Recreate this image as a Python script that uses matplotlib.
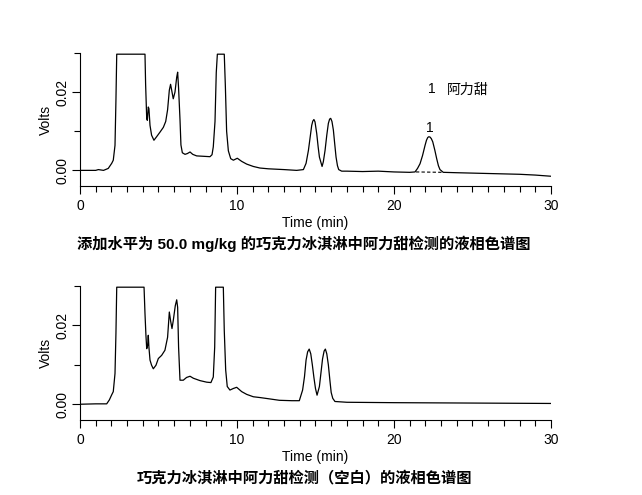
"""Two HPLC chromatograms: spiked chocolate ice cream vs blank."""

import matplotlib

matplotlib.use("Agg")
import matplotlib.pyplot as plt  # noqa: E402
from matplotlib.ticker import MultipleLocator  # noqa: E402

plt.rcParams["font.family"] = ["Liberation Sans", "Noto Sans CJK SC", "DejaVu Sans"]

# spiked sample (50.0 mg/kg); 0.0297 = detector saturation
spiked_t = [
    0.0, 1.0, 1.17, 1.5, 1.80, 2.02, 2.12, 2.23, 2.29, 2.34, 4.14, 4.18, 4.25,
    4.29, 4.35, 4.39, 4.46, 4.56, 4.71, 4.88, 5.10, 5.31, 5.46, 5.58, 5.69,
    5.77, 5.84, 5.94, 6.05, 6.16, 6.22, 6.28, 6.37, 6.43, 6.52, 6.69, 6.84,
    7.01, 7.18, 7.43, 7.86, 8.28, 8.41, 8.49, 8.60, 8.68, 8.75, 9.19, 9.26,
    9.34, 9.45, 9.60, 9.77, 10.02, 10.30, 10.62, 11.04, 11.46, 12.0, 13.0,
    13.8, 14.23, 14.40, 14.55, 14.76, 14.83, 14.90, 14.97, 15.08, 15.17,
    15.25, 15.42, 15.50, 15.61, 15.72, 15.82, 15.90, 15.97, 16.05, 16.14,
    16.22, 16.31, 16.40, 16.48, 16.67, 17.0, 18.0, 19.0, 20.0, 21.0, 21.34,
    21.50, 21.66, 21.82, 21.98, 22.07, 22.15, 22.22, 22.30, 22.38, 22.47,
    22.60, 22.72, 22.83, 22.93, 23.14, 24.0, 26.0, 28.0, 29.0, 30.0,
]
spiked_v = [
    0.0, 0.0, 0.0002, 0.0, 0.0005, 0.0018, 0.0026, 0.0064, 0.018, 0.0297,
    0.0297, 0.022, 0.0132, 0.0128, 0.0162, 0.0158, 0.0115, 0.0090, 0.0077,
    0.0086, 0.0098, 0.0110, 0.0125, 0.0155, 0.0205, 0.0220, 0.0205, 0.0183,
    0.0200, 0.0238, 0.0251, 0.0210, 0.0130, 0.0065, 0.0045, 0.0041, 0.0043,
    0.0047, 0.0041, 0.0037, 0.0036, 0.0035, 0.0040, 0.0060, 0.0125, 0.0250,
    0.0297, 0.0297, 0.0215, 0.0100, 0.0050, 0.0030, 0.0026, 0.0031, 0.0023,
    0.0016, 0.0010, 0.0006, 0.0004, 0.0002, 0.0, 0.0002, 0.0018, 0.0051,
    0.0115, 0.0126, 0.0130, 0.0124, 0.0094, 0.0060, 0.0034, 0.0010, 0.0022,
    0.0051, 0.0090, 0.0120, 0.0131, 0.0133, 0.0125, 0.0103, 0.0070, 0.0034,
    0.0012, 0.0002, -0.0002, -0.0002, -0.0003, -0.0002, -0.0004, -0.0005,
    -0.0004, 0.0005, 0.0017, 0.0038, 0.0064, 0.0077, 0.0084, 0.0086, 0.0085,
    0.0081, 0.0073, 0.0052, 0.0030, 0.0012, 0.0002, -0.0005, -0.0006,
    -0.0008, -0.0010, -0.0012, -0.0015,
]

# blank sample
blank_t = [
    0.0, 1.0, 1.70, 1.87, 2.02, 2.12, 2.23, 2.29, 2.34, 4.08, 4.14, 4.20,
    4.25, 4.31, 4.35, 4.39, 4.46, 4.56, 4.67, 4.84, 4.99, 5.20, 5.41, 5.58,
    5.69, 5.77, 5.86, 5.94, 6.07, 6.16, 6.22, 6.28, 6.37, 6.58, 6.79, 7.01,
    7.22, 7.64, 8.07, 8.34, 8.49, 8.58, 8.64, 9.13, 9.19, 9.28, 9.38, 9.55,
    9.77, 9.98, 10.30, 10.62, 11.04, 11.46, 12.0, 12.7, 13.5, 13.97, 14.18,
    14.30, 14.40, 14.50, 14.60, 14.70, 14.80, 14.90, 15.00, 15.10, 15.25,
    15.35, 15.45, 15.55, 15.63, 15.72, 15.82, 15.92, 16.00, 16.10, 16.24,
    17.0, 20.0, 25.0, 30.0,
]
blank_v = [
    0.0, 0.0001, 0.0001, 0.0011, 0.0024, 0.0032, 0.0078, 0.018, 0.0297,
    0.0297, 0.0230, 0.0175, 0.0141, 0.0150, 0.0175, 0.0145, 0.0112, 0.0099,
    0.0090, 0.0099, 0.0116, 0.0124, 0.0137, 0.0170, 0.0234, 0.0212, 0.0192,
    0.0212, 0.0250, 0.0265, 0.0246, 0.0145, 0.0061, 0.0061, 0.0068, 0.0071,
    0.0066, 0.0060, 0.0056, 0.0055, 0.0069, 0.0145, 0.0297, 0.0297, 0.0187,
    0.0087, 0.0045, 0.0036, 0.0040, 0.0043, 0.0032, 0.0025, 0.0019, 0.0017,
    0.0014, 0.0010, 0.0009, 0.0009, 0.0036, 0.0070, 0.0112, 0.0133, 0.0140,
    0.0128, 0.0100, 0.0068, 0.0040, 0.0023, 0.0045, 0.0080, 0.0115, 0.0135,
    0.0140, 0.0128, 0.0100, 0.0060, 0.0030, 0.0015, 0.0007, 0.0005, 0.0004,
    0.0003, 0.0002,
]

# integration baseline under the aspartame peak
peak_base_t = [21.4, 23.1]
peak_base_v = [-0.0004, -0.0005]
peak_label = "1"
peak_label_pos = (22.3, 0.0108)
legend_pos = (22.4, 0.0207)
legend_name = "阿力甜"

titles = [
    "添加水平为 50.0 mg/kg 的巧克力冰淇淋中阿力甜检测的液相色谱图",
    "巧克力冰淇淋中阿力甜检测（空白）的液相色谱图",
]


def style_axes(ax):
    ax.set_xlim(0, 30)
    ax.set_ylim(-0.004, 0.030)
    ax.spines["top"].set_visible(False)
    ax.spines["right"].set_visible(False)
    ax.xaxis.set_major_locator(MultipleLocator(10))
    ax.xaxis.set_minor_locator(MultipleLocator(1))
    ax.set_yticks([0.0, 0.02])
    ax.set_yticklabels(["0.00", "0.02"], rotation=90, va="center")
    ax.yaxis.set_minor_locator(MultipleLocator(0.01))
    ax.tick_params(which="major", length=6, width=0.8, labelsize=10)
    ax.tick_params(axis="y", which="major", pad=1.5)
    ax.tick_params(which="minor", length=4, width=0.8)
    ax.set_xlabel("Time (min)", fontsize=10, labelpad=2)
    ax.set_ylabel("Volts", fontsize=10, labelpad=2)


fig = plt.figure(figsize=(6.42, 4.95), dpi=100)
ax1 = fig.add_axes([0.1246, 0.6242, 0.7336, 0.2687])
ax2 = fig.add_axes([0.1246, 0.1515, 0.7336, 0.2707])

ax1.plot(spiked_t, spiked_v, color="black", lw=0.9)
ax1.plot(peak_base_t, peak_base_v, color="black", lw=0.8, ls=(0, (3, 2)))
ax1.text(*peak_label_pos, peak_label, ha="center", va="center", fontsize=10)
ax1.text(*legend_pos, "1", ha="center", va="center", fontsize=10)
ax1.text(legend_pos[0] + 0.95, legend_pos[1], legend_name, ha="left", va="center", fontsize=10)
style_axes(ax1)

ax2.plot(blank_t, blank_v, color="black", lw=0.9)
style_axes(ax2)

fig.text(0.4735, 0.507, titles[0], ha="center", va="center", fontsize=11, fontweight="bold")
fig.text(0.4735, 0.034, titles[1], ha="center", va="center", fontsize=11, fontweight="bold")

fig.savefig("out.png", dpi=100)
plt.close(fig)
